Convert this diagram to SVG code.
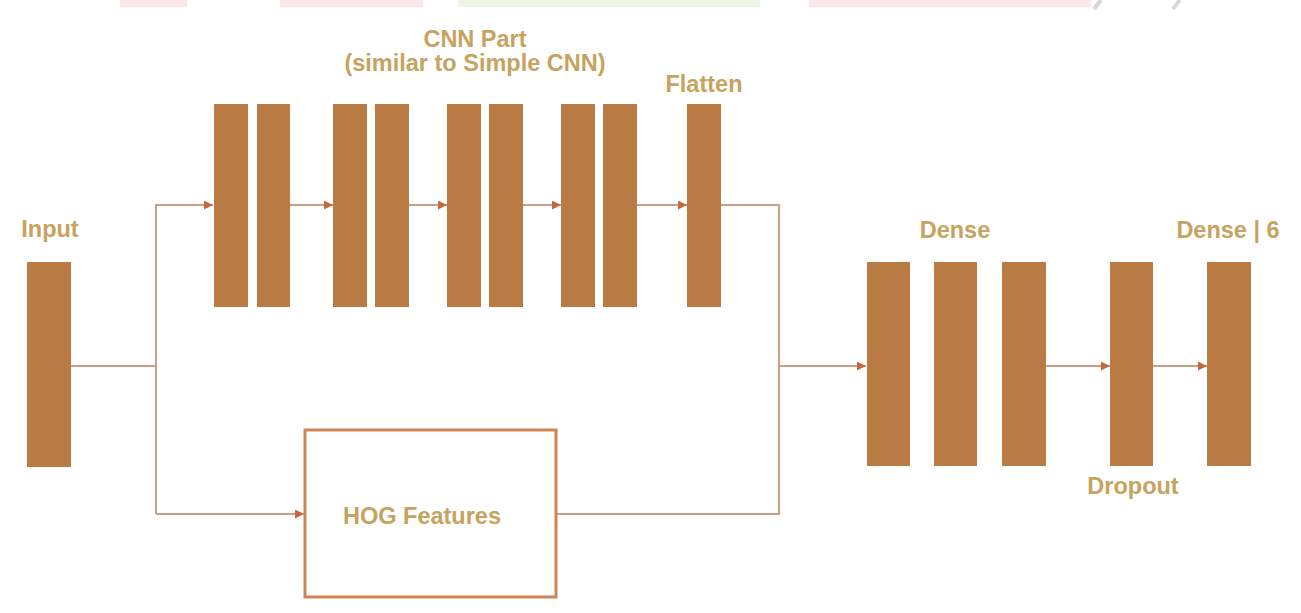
<svg xmlns="http://www.w3.org/2000/svg" width="1301" height="613" viewBox="0 0 1301 613">
  <defs>
    <style>
      .layer { fill: #b97a44; }
      .lbl { font-family: "Liberation Sans", Arial, sans-serif; font-weight: bold; font-size: 23.5px; fill: #c6a35e; }
      .conn { fill: none; stroke: #c9a189; stroke-width: 2; }
      .hog { fill: #ffffff; stroke: #d08355; stroke-width: 3; }
    </style>
    <marker id="arr" viewBox="0 0 10 10" refX="10" refY="5" markerWidth="10" markerHeight="9" markerUnits="userSpaceOnUse" orient="auto">
      <path d="M0,0 L10,5 L0,10 z" fill="#c4683e"/>
    </marker>
  </defs>
  <rect width="1301" height="613" fill="#ffffff"/>
  <g id="watermark">
    <rect x="120" y="0" width="67" height="7" fill="#fde6e6"/>
    <rect x="280" y="0" width="143" height="7" fill="#fde6e6"/>
    <rect x="458" y="0" width="302" height="7" fill="#ecf8e4"/>
    <rect x="809" y="0" width="282" height="7" fill="#fde6e6"/>
    <path d="M1094,9 L1101,0 M1173,9 L1180,0" stroke="#d8d8d8" stroke-width="4"/>
  </g>
  <g id="connectors">
    <path class="conn" d="M71,366 H156"/>
    <path class="conn" d="M156,514 V205 H213" marker-end="url(#arr)"/>
    <path class="conn" d="M156,514 H304" marker-end="url(#arr)"/>
    <path class="conn" d="M290,205 H333" marker-end="url(#arr)"/>
    <path class="conn" d="M409,205 H447" marker-end="url(#arr)"/>
    <path class="conn" d="M523,205 H561" marker-end="url(#arr)"/>
    <path class="conn" d="M637,205 H687" marker-end="url(#arr)"/>
    <path class="conn" d="M721,205 H779 V514 H557"/>
    <path class="conn" d="M779,366 H866" marker-end="url(#arr)"/>
    <path class="conn" d="M1046,366 H1110" marker-end="url(#arr)"/>
    <path class="conn" d="M1153,366 H1207" marker-end="url(#arr)"/>
  </g>
  <g id="input">
    <text class="lbl" x="50" y="237" text-anchor="middle">Input</text>
    <rect class="layer" x="27" y="262" width="44" height="205"/>
  </g>
  <g id="cnn-part">
    <text class="lbl" x="475" y="47" text-anchor="middle" font-size="24">CNN Part</text>
    <text class="lbl" x="475" y="71" text-anchor="middle" font-size="24">(similar to Simple CNN)</text>
    <rect class="layer" x="214" y="104" width="34" height="203"/>
    <rect class="layer" x="257" y="104" width="33" height="203"/>
    <rect class="layer" x="333" y="104" width="34" height="203"/>
    <rect class="layer" x="375" y="104" width="34" height="203"/>
    <rect class="layer" x="447" y="104" width="34" height="203"/>
    <rect class="layer" x="489" y="104" width="34" height="203"/>
    <rect class="layer" x="561" y="104" width="34" height="203"/>
    <rect class="layer" x="603" y="104" width="34" height="203"/>
  </g>
  <g id="flatten">
    <text class="lbl" x="704" y="92" text-anchor="middle">Flatten</text>
    <rect class="layer" x="687" y="104" width="34" height="203"/>
  </g>
  <g id="hog">
    <rect class="hog" x="305" y="430" width="251" height="167"/>
    <text class="lbl" x="422" y="524" text-anchor="middle">HOG Features</text>
  </g>
  <g id="dense">
    <text class="lbl" x="955" y="238" text-anchor="middle">Dense</text>
    <rect class="layer" x="867" y="262" width="43" height="204"/>
    <rect class="layer" x="934" y="262" width="43" height="204"/>
    <rect class="layer" x="1002" y="262" width="44" height="204"/>
  </g>
  <g id="dropout">
    <rect class="layer" x="1110" y="262" width="43" height="204"/>
    <text class="lbl" x="1133" y="494" text-anchor="middle">Dropout</text>
  </g>
  <g id="dense-6">
    <text class="lbl" x="1228" y="238" text-anchor="middle">Dense | 6</text>
    <rect class="layer" x="1207" y="262" width="44" height="204"/>
  </g>
</svg>
